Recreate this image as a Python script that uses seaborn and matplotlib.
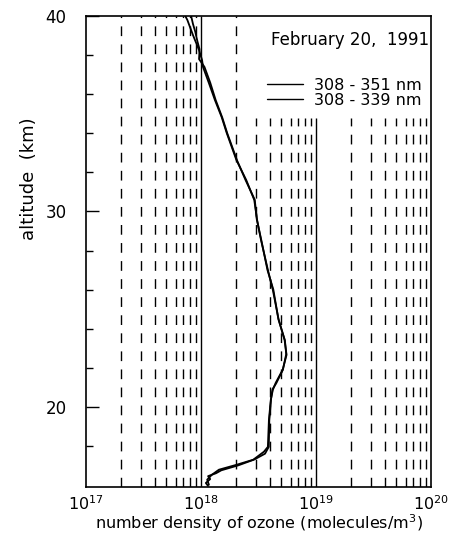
import numpy as np
import pandas as pd
import seaborn as sns
import matplotlib.pyplot as plt
from matplotlib.lines import Line2D

# altitude (km) and ozone number density (molecules/m3)
alt_a = [40.0, 39.8, 39.03, 38.26, 37.75, 37.39, 36.57, 35.70, 34.83, 34.02,
         32.63, 31.61, 30.59, 29.57, 28.54, 27.01, 25.98, 24.45, 23.43, 22.66,
         21.89, 21.23, 20.87, 20.36, 19.33, 17.95, 17.70, 17.29, 17.03, 16.78,
         16.52, 16.27, 16.01]
dens_a = [7.3e17, 7.6e17, 8.5e17, 9.6e17, 1.02e18, 1.04e18, 1.17e18, 1.32e18,
          1.51e18, 1.67e18, 2.03e18, 2.47e18, 2.90e18, 3.07e18, 3.32e18,
          3.81e18, 4.21e18, 4.73e18, 5.32e18, 5.54e18, 5.12e18, 4.46e18,
          4.21e18, 4.04e18, 3.89e18, 3.81e18, 3.52e18, 2.84e18, 2.03e18,
          1.43e18, 1.24e18, 1.13e18, 1.17e18]

alt_b = [40.0, 39.6, 39.2, 38.7, 38.3, 37.8, 37.4, 36.6, 35.7, 34.8, 34.0,
         32.6, 31.6, 30.6, 29.6, 28.5, 27.0, 26.0, 24.5, 23.4, 22.7, 21.9,
         21.2, 20.9, 20.4, 19.3, 17.95, 17.6, 17.3, 17.0, 16.75, 16.6, 16.45,
         16.3, 16.1, 15.95]
dens_b = [8.2e17, 8.5e17, 8.9e17, 9.3e17, 9.7e17, 9.6e17, 1.07e18, 1.20e18,
          1.34e18, 1.53e18, 1.69e18, 2.06e18, 2.44e18, 2.93e18, 3.05e18,
          3.35e18, 3.78e18, 4.25e18, 4.70e18, 5.36e18, 5.50e18, 5.15e18,
          4.50e18, 4.18e18, 4.06e18, 3.92e18, 3.88e18, 3.60e18, 2.90e18,
          2.10e18, 1.50e18, 1.35e18, 1.15e18, 1.20e18, 1.10e18, 1.15e18]

labels = ['308 - 351 nm', '308 - 339 nm']
title_text = 'February 20,  1991'

df = pd.concat([
    pd.DataFrame({'alt': alt_a, 'dens': dens_a, 'band': labels[0]}),
    pd.DataFrame({'alt': alt_b, 'dens': dens_b, 'band': labels[1]}),
])

sns.set_style('ticks')
plt.rcParams['font.family'] = ['DejaVu Sans']
plt.rcParams['mathtext.default'] = 'regular'
plt.rcParams['text.color'] = 'black'
plt.rcParams['axes.labelcolor'] = 'black'
plt.rcParams['xtick.color'] = 'black'
plt.rcParams['ytick.color'] = 'black'

fig = plt.figure(figsize=(4.68, 5.38), dpi=100)
ax = fig.add_axes([0.184, 0.095, 0.737, 0.875])

ylo, yhi = 15.9, 40
ax.set_xscale('log')
ax.set_xlim(1e17, 1e20)
ax.set_ylim(ylo, yhi)

# dashed grid at minor positions, solid at decades; cut short under the legend
for dec in [1e17, 1e18, 1e19]:
    for m in range(1, 10):
        xv = m * dec
        if xv == 1e17:
            continue
        top = yhi
        if xv >= 2.5e18:
            top = 34.8
        if m == 1:
            ax.vlines(xv, ylo, top, colors='black', linewidth=1.0)
        else:
            ax.vlines(xv, ylo, top, colors='black', linewidth=1.0,
                      linestyles=(0, (7, 6)))

sns.lineplot(data=df, x='dens', y='alt', hue='band', palette=['black', 'black'],
             sort=False, estimator=None, linewidth=1.3, legend=False, ax=ax)

handles = [Line2D([], [], color='black', linewidth=1.0) for _ in labels]
ax.legend(handles, labels, loc='upper right', bbox_to_anchor=(1.0, 0.89),
          frameon=False, fontsize=11.5, handlelength=2.2, handletextpad=0.7,
          labelspacing=0.0, borderaxespad=0.2)
ax.text(0.995, 0.95, title_text, transform=ax.transAxes, ha='right', va='center',
        fontsize=12)

ax.set_yticks([20, 30, 40])
ax.set_yticks(np.arange(18, 40, 2), minor=True)
ax.set_yticklabels(['20', '30', '40'], fontsize=12)
ax.set_xticks([1e17, 1e18, 1e19, 1e20])
ax.set_xticklabels([r'$10^{17}$', r'$10^{18}$', r'$10^{19}$', r'$10^{20}$'],
                   fontsize=11.5)
ax.tick_params(axis='y', which='major', direction='in', length=9, width=1, pad=14)
ax.tick_params(axis='y', which='minor', direction='in', length=5, width=1)
ax.tick_params(axis='x', which='both', direction='in', length=0, pad=5)

ax.set_xlabel('number density of ozone (molecules/m$^3$)', fontsize=11.5, labelpad=0)
ax.set_ylabel('altitude  (km)', fontsize=13)
ax.yaxis.set_label_coords(-0.14, 0.655)

for s in ax.spines.values():
    s.set_linewidth(1.2)
    s.set_color('black')

fig.savefig('out.png', dpi=100)
